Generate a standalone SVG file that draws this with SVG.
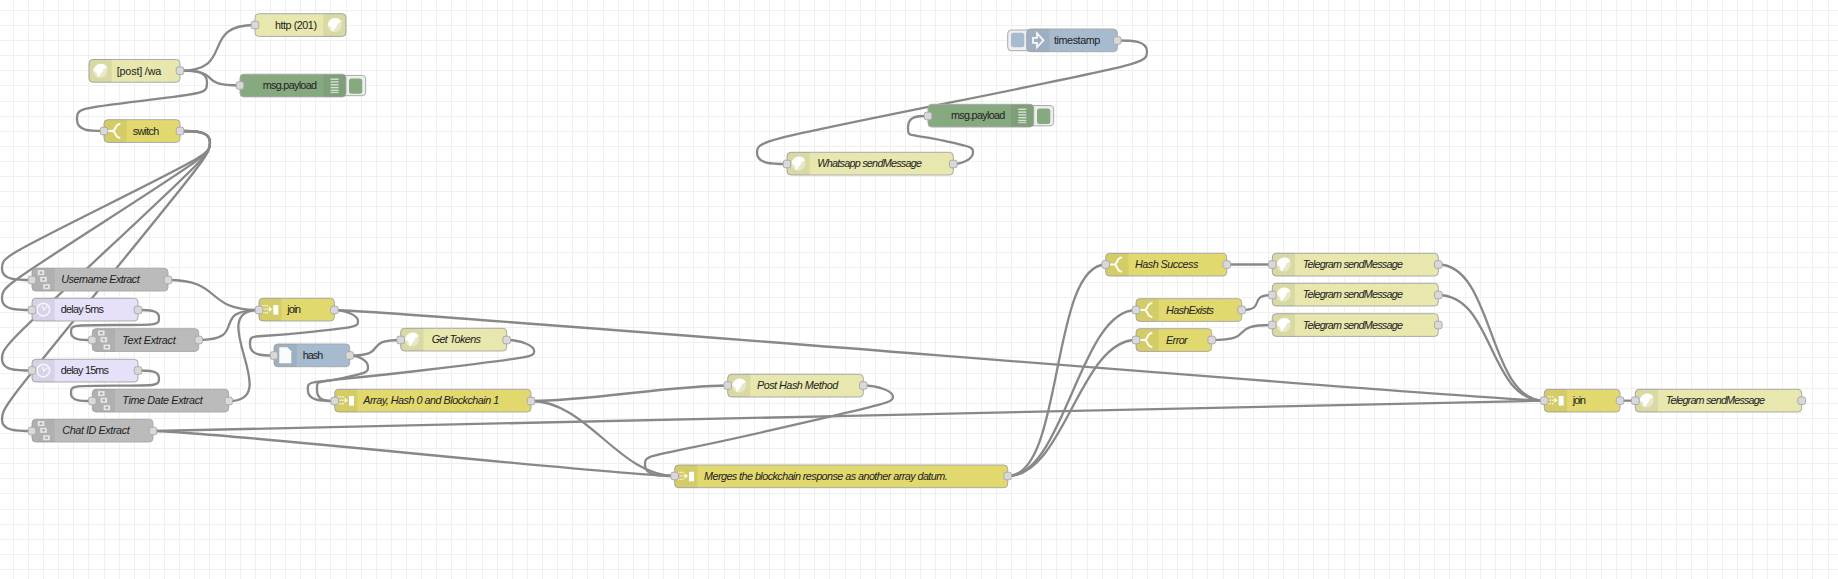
<svg xmlns="http://www.w3.org/2000/svg" width="1838" height="579" viewBox="0 0 1838 579">
<style>
text{font-family:"Liberation Sans",Arial,sans-serif;font-size:10.8px;fill:#222}
.it{font-style:italic}
.grid{fill:none;stroke:#f0f0f0;stroke-width:1}
.w{fill:none;stroke:#888;stroke-width:2.3}
.b{stroke:#aaa;stroke-width:1}
.y{fill:#E2D96E}.h{fill:#E7E7AE}.g{fill:#BBBBBB}.d{fill:#87A980}.l{fill:#E6E0F8}.s{fill:#A6BBCF}
.p{fill:#d9d9d9;stroke:#aaa;stroke-width:1}
.sh{fill:#000;fill-opacity:.06}
.btn{fill:#eee;stroke:#aaa;stroke-width:1}
</style>
<defs>
<path id="shL" class="sh" d="M3.8,0H22.7V22.7H3.8A3.8,3.8 0 0 1 0,18.9V3.8A3.8,3.8 0 0 1 3.8,0Z"/>
<path id="shR" class="sh" d="M0,0H18.9A3.8,3.8 0 0 1 22.7,3.8V18.9A3.8,3.8 0 0 1 18.9,22.7H0Z"/>
<rect id="port" class="p" x="-3.8" y="-3.8" width="7.6" height="7.6" rx="2.2"/>
<g id="iGlobe"><circle r="7" fill="#fff" fill-opacity=".4"/><path d="M-7,0C-6,-4 -3,-7 1,-7C4,-7 6,-5 7,-3C5,-3 4,-2 3,-1C3,1 1,2 0,4C-1,6 -2,7 -3,6C-3,4 -3,2 -5,1C-6,1 -6,0 -7,0Z" fill="#fff" fill-opacity=".95"/></g>
<g id="iSwitch"><path d="M-8,0H-3C1,0 -1,-7 5,-7M-3,0C1,0 -1,7 5,7" fill="none" stroke="#fff" stroke-opacity=".95" stroke-width="2"/></g>
<g id="iJoin" fill="#fff"><path d="M-8,-4.5h1.3v1.3h-1.3zM-5.8,-4.5h1.3v1.3h-1.3zM-3.6,-4.5h1.3v1.3h-1.3zM-8,-1h1.3v1.3h-1.3zM-5.8,-1h1.3v1.3h-1.3zM-3.6,-1h1.3v1.3h-1.3zM-8,2.5h1.3v1.3h-1.3zM-5.8,2.5h1.3v1.3h-1.3zM-3.6,2.5h1.3v1.3h-1.3z" fill-opacity=".85"/><path d="M-1.5,-3L2,-.3L-1.5,2.4Z" fill-opacity=".9"/><rect x="3" y="-4.5" width="5" height="9.5"/></g>
<path id="iFile" d="M-6,-8H2L6,-4V8H-6Z" fill="#fff" fill-opacity=".95"/>
<g id="iClock"><circle r="6.3" fill="none" stroke="#fff" stroke-width="1.6" stroke-opacity=".8"/><path d="M-1,-4L0.5,0.5L4,-3" fill="none" stroke="#fff" stroke-width="1.3" stroke-opacity=".8"/></g>
<g id="iDebug" fill="#fff" fill-opacity=".7"><rect x="-4" y="-7" width="8" height="1.4"/><rect x="-4" y="-4.2" width="8" height="1.4"/><rect x="-4" y="-1.4" width="8" height="1.4"/><rect x="-4" y="1.4" width="8" height="1.4"/><rect x="-4" y="4.2" width="8" height="1.4"/><rect x="-4" y="6.6" width="8" height="1"/></g>
<path id="iInject" d="M-5,-2.5H-1V-7L5.5,0L-1,7V2.5H-5Z" fill="none" stroke="#fff" stroke-width="1.8" stroke-opacity=".9"/>
<g id="iSub"><g fill="#fff" fill-opacity=".7"><rect x="-5.5" y="-9.5" width="6.5" height="5"/><rect x="-3" y="-2.8" width="6.5" height="5"/><rect x="0" y="4.6" width="6.5" height="5"/></g><g fill="#888" fill-opacity=".7"><rect x="-3.6" y="-8" width="2.6" height="2"/><rect x="-1.1" y="-1.3" width="2.6" height="2"/><rect x="1.9" y="6.1" width="2.6" height="2"/></g></g>
</defs>
<rect width="1838" height="579" fill="#fff"/>
<path class="grid" shape-rendering="crispEdges" d="M13.5,0V579M28.5,0V579M43.5,0V579M58.5,0V579M73.5,0V579M88.5,0V579M104.5,0V579M119.5,0V579M134.5,0V579M149.5,0V579M164.5,0V579M179.5,0V579M194.5,0V579M209.5,0V579M225.5,0V579M240.5,0V579M255.5,0V579M270.5,0V579M285.5,0V579M300.5,0V579M315.5,0V579M330.5,0V579M346.5,0V579M361.5,0V579M376.5,0V579M391.5,0V579M406.5,0V579M421.5,0V579M436.5,0V579M451.5,0V579M466.5,0V579M482.5,0V579M497.5,0V579M512.5,0V579M527.5,0V579M542.5,0V579M557.5,0V579M572.5,0V579M587.5,0V579M603.5,0V579M618.5,0V579M633.5,0V579M648.5,0V579M663.5,0V579M678.5,0V579M693.5,0V579M708.5,0V579M724.5,0V579M739.5,0V579M754.5,0V579M769.5,0V579M784.5,0V579M799.5,0V579M814.5,0V579M829.5,0V579M845.5,0V579M860.5,0V579M875.5,0V579M890.5,0V579M905.5,0V579M920.5,0V579M935.5,0V579M950.5,0V579M966.5,0V579M981.5,0V579M996.5,0V579M1011.5,0V579M1026.5,0V579M1041.5,0V579M1056.5,0V579M1071.5,0V579M1087.5,0V579M1102.5,0V579M1117.5,0V579M1132.5,0V579M1147.5,0V579M1162.5,0V579M1177.5,0V579M1192.5,0V579M1207.5,0V579M1223.5,0V579M1238.5,0V579M1253.5,0V579M1268.5,0V579M1283.5,0V579M1298.5,0V579M1313.5,0V579M1328.5,0V579M1344.5,0V579M1359.5,0V579M1374.5,0V579M1389.5,0V579M1404.5,0V579M1419.5,0V579M1434.5,0V579M1449.5,0V579M1465.5,0V579M1480.5,0V579M1495.5,0V579M1510.5,0V579M1525.5,0V579M1540.5,0V579M1555.5,0V579M1570.5,0V579M1586.5,0V579M1601.5,0V579M1616.5,0V579M1631.5,0V579M1646.5,0V579M1661.5,0V579M1676.5,0V579M1691.5,0V579M1707.5,0V579M1722.5,0V579M1737.5,0V579M1752.5,0V579M1767.5,0V579M1782.5,0V579M1797.5,0V579M1812.5,0V579M1828.5,0V579M0,10.5H1838M0,25.5H1838M0,40.5H1838M0,55.5H1838M0,70.5H1838M0,85.5H1838M0,101.5H1838M0,116.5H1838M0,131.5H1838M0,146.5H1838M0,161.5H1838M0,176.5H1838M0,191.5H1838M0,206.5H1838M0,221.5H1838M0,237.5H1838M0,252.5H1838M0,267.5H1838M0,282.5H1838M0,297.5H1838M0,312.5H1838M0,327.5H1838M0,342.5H1838M0,357.5H1838M0,373.5H1838M0,388.5H1838M0,403.5H1838M0,418.5H1838M0,433.5H1838M0,448.5H1838M0,463.5H1838M0,478.5H1838M0,493.5H1838M0,509.5H1838M0,524.5H1838M0,539.5H1838M0,554.5H1838M0,569.5H1838"/>
<g id="connectors">
<path class="w" d="M180,70.7C236.2,70.7 198.8,25 255,25"/>
<path class="w" d="M180,70.7C226.4,70.7 193.6,85.5 240,85.5"/>
<path class="w" d="M180,70.7C193.5,70.7 207,70.7 207,82S207,93.2 142,100.8S77,108.5 77,119.8S90.5,131 104,131"/>
<path class="w" d="M180,131C195,131 210,131 210,142.2S210,153.5 106,205.5S2,257.5 2,268.7S17,280 32,280"/>
<path class="w" d="M180,131C195,131 210,131 210,142.2S210,153.5 106,220.5S2,287.5 2,298.7S17,310 32,310"/>
<path class="w" d="M180,131C195,131 210,131 210,142.2S210,153.5 106,250.7S2,348 2,359.2S17,370.5 32,370.5"/>
<path class="w" d="M180,131C195,131 210,131 210,142.2S210,153.5 106,281S2,408.5 2,419.7S17,431 32,431"/>
<path class="w" d="M168,280C224.2,280 202.8,310 259,310"/>
<path class="w" d="M138,310C148.5,310 159,310 159,317.5S159,325 115,325S71,325 71,332.5S81.5,340 92,340"/>
<path class="w" d="M138,370.5C148.5,370.5 159,370.5 159,378.1S159,385.7 115,385.7S71,385.7 71,393.4S81.5,401 92,401"/>
<path class="w" d="M199,340C249.3,340 208.7,310 259,310"/>
<path class="w" d="M229,401C285.2,401 202.8,310 259,310"/>
<path class="w" d="M153,431C209.2,431 618.8,476 675,476"/>
<path class="w" d="M153,431C209.2,431 1487.8,400.7 1544,400.7"/>
<path class="w" d="M334,310C346,310 358,315.6 358,321.2S358,326.9 304,332.7S250,333 250,344.2S262,355.5 274,355.5"/>
<path class="w" d="M334,310C390.2,310 1487.8,400.7 1544,400.7"/>
<path class="w" d="M350,355.5C390,355.5 361,340 401,340"/>
<path class="w" d="M350,355.5C359,355.5 368,361.1 368,366.7S368,372.4 342.5,378.2S317,378.5 317,389.7S326,401 335,401"/>
<path class="w" d="M507,340C520.6,340 534.2,345.6 534.2,351.2S534.2,356.9 421,370.5S307.8,378.5 307.8,389.7S321.4,401 335,401"/>
<path class="w" d="M531,401C587.2,401 671.8,385.5 728,385.5"/>
<path class="w" d="M531,401C587.2,401 618.8,476 675,476"/>
<path class="w" d="M863,385.5C878,385.5 893,391.1 893,396.7S893,402.4 769,430.7S645,453.5 645,464.7S660,476 675,476"/>
<path class="w" d="M1008,476C1064.2,476 1049.8,264.5 1106,264.5"/>
<path class="w" d="M1008,476C1064.2,476 1079.8,310 1136,310"/>
<path class="w" d="M1008,476C1064.2,476 1079.8,340 1136,340"/>
<path class="w" d="M1227,264.5H1272"/>
<path class="w" d="M1242,310C1267,310 1247,295 1272,295"/>
<path class="w" d="M1212,340C1258.4,340 1225.6,325 1272,325"/>
<path class="w" d="M1438,264.5C1494.2,264.5 1487.8,400.7 1544,400.7"/>
<path class="w" d="M1438,295C1494.2,295 1487.8,400.7 1544,400.7"/>
<path class="w" d="M1620,400.7H1635"/>
<path class="w" d="M1117,40.5C1132,40.5 1147,40.5 1147,51.7S1147,63 952,102.2S757,141.5 757,152.7S772,164 787,164"/>
<path class="w" d="M953,164C963,164 973,158.4 973,152.7S973,147.1 940.5,140S908,138.5 908,127.2S918,116 928,116"/>
</g>
<g id="n-post" transform="translate(89,59.5)"><rect class="b h" width="91" height="22.7" rx="3.8"/><use href="#shL"/><use href="#iGlobe" x="11.3" y="11.3"/><use href="#port" x="91" y="11.2"/><text x="27.7" y="15" textLength="44.6">[post] /wa</text></g>
<g id="n-http201" transform="translate(255,13.7)"><rect class="b h" width="91" height="22.7" rx="3.8"/><use href="#shR" x="68.3"/><use href="#iGlobe" x="79.6" y="11.3"/><use href="#port" y="11.3"/><text x="20" y="15" textLength="42">http (201)</text></g>
<g id="n-debug1" transform="translate(240,74.2)"><rect class="btn" x="100" y="1.2" width="25.7" height="20.3" rx="3.5"/><rect x="109" y="4.2" width="13.3" height="15.4" rx="2.5" fill="#87A980"/><rect class="b d" width="106" height="22.7" rx="3.8"/><use href="#shR" x="83.3"/><use href="#iDebug" x="94.6" y="11.3"/><use href="#port" y="11.3"/><text x="22.7" y="15" textLength="54.3">msg.payload</text></g>
<g id="n-switch" transform="translate(104,119.7)"><rect class="b y" width="76" height="22.7" rx="3.8"/><use href="#shL"/><use href="#iSwitch" x="11.3" y="11.3"/><use href="#port" y="11.3"/><use href="#port" x="76" y="11.3"/><text x="28.7" y="15" textLength="26.6">switch</text></g>
<g id="n-username" transform="translate(32,268.3)"><rect class="b g" width="136" height="22.7" rx="3.8"/><use href="#shL"/><use href="#iSub" x="11.3" y="11.3"/><use href="#port" y="11.7"/><use href="#port" x="136" y="11.7"/><text class="it" x="29.3" y="15" textLength="78.4">Username Extract</text></g>
<g id="n-delay5" transform="translate(32,298.3)"><rect class="b l" width="106" height="22.7" rx="3.8"/><use href="#shL"/><use href="#iClock" x="11.3" y="11.3"/><use href="#port" y="11.7"/><use href="#port" x="106" y="11.7"/><text x="28.7" y="15" textLength="43.3">delay 5ms</text></g>
<g id="n-text" transform="translate(92.3,328.7)"><rect class="b g" width="106.4" height="22.7" rx="3.8"/><use href="#shL"/><use href="#iSub" x="11.3" y="11.3"/><use href="#port" y="11.3"/><use href="#port" x="106.4" y="11.3"/><text class="it" x="30" y="15" textLength="53.4">Text Extract</text></g>
<g id="n-delay15" transform="translate(32,359.3)"><rect class="b l" width="106" height="22.7" rx="3.8"/><use href="#shL"/><use href="#iClock" x="11.3" y="11.3"/><use href="#port" y="11.2"/><use href="#port" x="106" y="11.2"/><text x="28.7" y="15" textLength="48.3">delay 15ms</text></g>
<g id="n-time" transform="translate(92.3,389.3)"><rect class="b g" width="136.4" height="22.7" rx="3.8"/><use href="#shL"/><use href="#iSub" x="11.3" y="11.3"/><use href="#port" y="11.7"/><use href="#port" x="136.4" y="11.7"/><text class="it" x="30" y="15" textLength="80.4">Time Date Extract</text></g>
<g id="n-chat" transform="translate(32,419.3)"><rect class="b g" width="121" height="22.7" rx="3.8"/><use href="#shL"/><use href="#iSub" x="11.3" y="11.3"/><use href="#port" y="11.7"/><use href="#port" x="121" y="11.7"/><text class="it" x="30.3" y="15" textLength="67.4">Chat ID Extract</text></g>
<g id="n-join1" transform="translate(259,298.3)"><rect class="b y" width="75.3" height="22.7" rx="3.8"/><use href="#shL"/><use href="#iJoin" x="11.3" y="11.3"/><use href="#port" y="11.7"/><use href="#port" x="75.3" y="11.7"/><text x="28.3" y="15" textLength="13.7">join</text></g>
<g id="n-hash" transform="translate(274,344)"><rect class="b s" width="75.7" height="22.7" rx="3.8"/><use href="#shL"/><use href="#iFile" x="11.3" y="11.3"/><use href="#port" y="11.5"/><use href="#port" x="75.7" y="11.5"/><text x="28.7" y="15" textLength="20.6">hash</text></g>
<g id="n-array" transform="translate(334.7,389.3)"><rect class="b y" width="196.3" height="22.7" rx="3.8"/><use href="#shL"/><use href="#iJoin" x="11.3" y="11.3"/><use href="#port" y="11.7"/><use href="#port" x="196.3" y="11.7"/><text class="it" x="28.6" y="15" textLength="136">Array, Hash 0 and Blockchain 1</text></g>
<g id="n-tokens" transform="translate(400.7,328.3)"><rect class="b h" width="106" height="22.7" rx="3.8"/><use href="#shL"/><use href="#iGlobe" x="11.3" y="11.3"/><use href="#port" y="11.7"/><use href="#port" x="106" y="11.7"/><text class="it" x="31" y="15" textLength="49.3">Get Tokens</text></g>
<g id="n-posthash" transform="translate(727.7,374.3)"><rect class="b h" width="135.6" height="22.7" rx="3.8"/><use href="#shL"/><use href="#iGlobe" x="11.3" y="11.3"/><use href="#port" y="11.2"/><use href="#port" x="135.6" y="11.2"/><text class="it" x="29.3" y="15" textLength="81.3">Post Hash Method</text></g>
<g id="n-merges" transform="translate(674.7,465)"><rect class="b y" width="333" height="22.7" rx="3.8"/><use href="#shL"/><use href="#iJoin" x="11.3" y="11.3"/><use href="#port" y="11"/><use href="#port" x="333" y="11"/><text class="it" x="29.3" y="15" textLength="243.7">Merges the blockchain response as another array datum.</text></g>
<g id="n-timestamp" transform="translate(1026.7,29)"><rect class="btn" x="-19" y="1" width="25" height="20.7" rx="3.5"/><rect x="-15.7" y="3.7" width="13.3" height="14.6" rx="2.5" fill="#A6BBCF"/><rect class="b s" width="90.6" height="22.7" rx="3.8"/><use href="#shL"/><use href="#iInject" x="11.3" y="11.3"/><use href="#port" x="90.6" y="11.5"/><text x="27.3" y="15" textLength="46.3">timestamp</text></g>
<g id="n-debug2" transform="translate(928,104.3)"><rect class="btn" x="100" y="1.2" width="25.7" height="20.3" rx="3.5"/><rect x="109" y="4.2" width="13.3" height="15.4" rx="2.5" fill="#87A980"/><rect class="b d" width="105.7" height="22.7" rx="3.8"/><use href="#shR" x="83"/><use href="#iDebug" x="94.3" y="11.3"/><use href="#port" y="11.7"/><text x="23" y="15" textLength="54.3">msg.payload</text></g>
<g id="n-whatsapp" transform="translate(787,152.3)"><rect class="b h" width="166.3" height="22.7" rx="3.8"/><use href="#shL"/><use href="#iGlobe" x="11.3" y="11.3"/><use href="#port" y="11.7"/><use href="#port" x="166.3" y="11.7"/><text class="it" x="30.3" y="15" textLength="104.7">Whatsapp sendMessage</text></g>
<g id="n-hsuccess" transform="translate(1105.7,253.3)"><rect class="b y" width="121" height="22.7" rx="3.8"/><use href="#shL"/><use href="#iSwitch" x="11.3" y="11.3"/><use href="#port" y="11.2"/><use href="#port" x="121" y="11.2"/><text class="it" x="29.3" y="15" textLength="63.3">Hash Success</text></g>
<g id="n-t1" transform="translate(1272.3,253.3)"><rect class="b h" width="166" height="22.7" rx="3.8"/><use href="#shL"/><use href="#iGlobe" x="11.3" y="11.3"/><use href="#port" y="11.2"/><use href="#port" x="166" y="11.2"/><text class="it" x="30.4" y="15" textLength="100.3">Telegram sendMessage</text></g>
<g id="n-t2" transform="translate(1272.3,283.3)"><rect class="b h" width="166" height="22.7" rx="3.8"/><use href="#shL"/><use href="#iGlobe" x="11.3" y="11.3"/><use href="#port" y="11.7"/><use href="#port" x="166" y="11.7"/><text class="it" x="30.4" y="15" textLength="100.3">Telegram sendMessage</text></g>
<g id="n-t3" transform="translate(1272.3,313.7)"><rect class="b h" width="166" height="22.7" rx="3.8"/><use href="#shL"/><use href="#iGlobe" x="11.3" y="11.3"/><use href="#port" y="11.3"/><use href="#port" x="166" y="11.3"/><text class="it" x="30.4" y="15" textLength="100.3">Telegram sendMessage</text></g>
<g id="n-hexists" transform="translate(1136,298.7)"><rect class="b y" width="105.7" height="22.7" rx="3.8"/><use href="#shL"/><use href="#iSwitch" x="11.3" y="11.3"/><use href="#port" y="11.3"/><use href="#port" x="105.7" y="11.3"/><text class="it" x="30" y="15" textLength="48">HashExists</text></g>
<g id="n-error" transform="translate(1136,328.7)"><rect class="b y" width="75.7" height="22.7" rx="3.8"/><use href="#shL"/><use href="#iSwitch" x="11.3" y="11.3"/><use href="#port" y="11.3"/><use href="#port" x="75.7" y="11.3"/><text class="it" x="30" y="15" textLength="21.7">Error</text></g>
<g id="n-join2" transform="translate(1544.3,389.3)"><rect class="b y" width="75.7" height="22.7" rx="3.8"/><use href="#shL"/><use href="#iJoin" x="11.3" y="11.3"/><use href="#port" y="11.4"/><use href="#port" x="75.7" y="11.4"/><text x="28.4" y="15" textLength="13.3">join</text></g>
<g id="n-t4" transform="translate(1635.3,389.3)"><rect class="b h" width="166.4" height="22.7" rx="3.8"/><use href="#shL"/><use href="#iGlobe" x="11.3" y="11.3"/><use href="#port" y="11.4"/><use href="#port" x="166.4" y="11.4"/><text class="it" x="30.4" y="15" textLength="99.3">Telegram sendMessage</text></g>
</svg>
